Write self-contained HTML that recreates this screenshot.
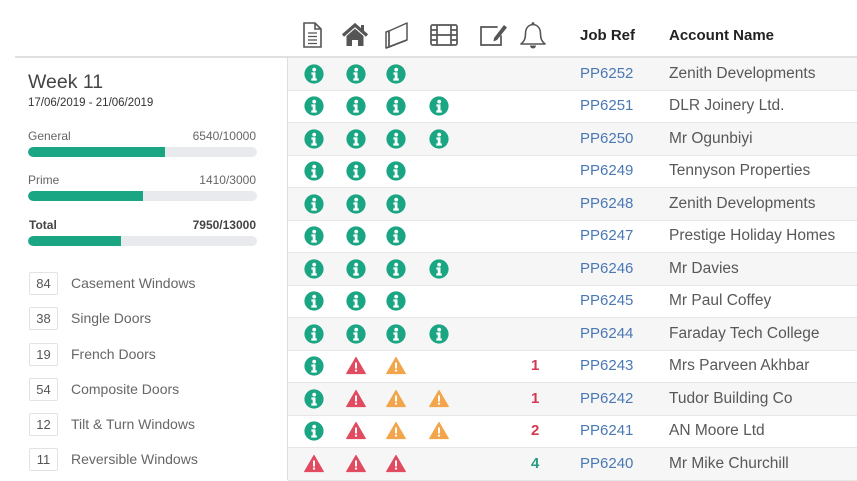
<!DOCTYPE html>
<html><head><meta charset="utf-8">
<style>
*{margin:0;padding:0;box-sizing:border-box}
body{width:857px;height:480px;overflow:hidden;background:#fff;font-family:"Liberation Sans",sans-serif;position:relative}
.a{position:absolute}
.row{position:absolute;left:288px;width:569px;height:33px;border-bottom:1px solid #e6e6e6}
.g{background:#f6f6f6}
.ref{position:absolute;left:292px;font-size:15px;color:#4a78b5;line-height:32px}
.acc{position:absolute;left:381px;font-size:15.5px;color:#585858;line-height:32px}
.ic{position:absolute;top:6px;width:20px;height:20px}
.cnt{position:absolute;left:243px;font-size:15px;font-weight:bold;line-height:32px}
.lbl{font-size:12px;color:#666}
.bar{position:absolute;left:28px;width:229px;height:10px;border-radius:5px;background:#e8eaed;overflow:hidden}
.bar div{height:10px;background:#1aa583;border-radius:5px 0 0 5px}
.box{position:absolute;left:29px;width:29px;height:23px;border:1px solid #e3e3e3;border-radius:2px;font-size:13px;color:#555;text-align:center;line-height:21px}
.it{position:absolute;left:71px;font-size:14px;color:#666;line-height:20px}
</style></head><body>
<svg width="0" height="0" style="position:absolute">
<defs>
<symbol id="inf" viewBox="0 0 20 20"><circle cx="10" cy="10" r="9.6" fill="#1aa583"/><circle cx="10.2" cy="5.6" r="1.9" fill="#fff"/><path d="M7.4 8.4h4.1v6h1.3v2.2H7.3v-2.2h1.4v-3.8H7.4z" fill="#fff"/></symbol>
<symbol id="wr" viewBox="0 0 20 20"><path d="M10 1.5 L19.3 17.5 L0.7 17.5 Z" fill="#e24a5f" stroke="#e24a5f" stroke-width="1.2" stroke-linejoin="round"/><rect x="9" y="6.5" width="2" height="6" fill="#fff"/><circle cx="10" cy="14.6" r="1.15" fill="#fff"/></symbol>
<symbol id="wo" viewBox="0 0 20 20"><path d="M10 1.5 L19.3 17.5 L0.7 17.5 Z" fill="#f2a54a" stroke="#f2a54a" stroke-width="1.2" stroke-linejoin="round"/><rect x="9" y="6.5" width="2" height="6" fill="#fff"/><circle cx="10" cy="14.6" r="1.15" fill="#fff"/></symbol>
</defs></svg>

<!-- header lines -->
<div class="a" style="left:15px;top:56px;width:842px;height:2px;background:#e0e0e0"></div>
<div class="a" style="left:287px;top:57px;width:1px;height:423px;background:#dedede"></div>

<!-- header icons -->
<svg class="a" style="left:300px;top:20px" width="250" height="30" viewBox="0 0 250 30">
<g fill="none" stroke="#555" stroke-width="1.6">
<path d="M4 3h11l6 6v18H4z"/><path d="M15 3v6h6"/>
<path d="M8 13h9M8 16.5h9M8 20h9M8 23.5h9" stroke-width="1.3"/>
</g>
<path d="M43 15.5 L55 5 L67 15.5" fill="none" stroke="#555" stroke-width="3.2" stroke-linejoin="miter"/>
<path d="M46.5 16 L55 8.6 L63.5 16 V26 H58 V20 H52 V26 H46.5Z" fill="#555"/>
<rect x="61" y="5" width="3" height="6" fill="#555"/>
<g fill="none" stroke="#555" stroke-width="1.5" stroke-linejoin="round">
<path d="M89 11 L107 3 L107 20 L89 27 Z"/><path d="M86 12 L89 11 L89 27 L86 28 Z"/><path d="M86 28 L104 21 L107 20"/>
</g>
<g fill="none" stroke="#555" stroke-width="1.7">
<rect x="131" y="5" width="26" height="20" rx="1.5"/>
<path d="M137 5v20M151 5v20M137 15h14M131 10h6M131 15h6M131 20h6M151 10h6M151 15h6M151 20h6"/>
<path d="M197 7h-16v18h20v-9" stroke-linecap="round"/>
</g>
<path d="M194 18 L204 5 L207 7.5 L197 20 L193.5 21.5Z" fill="#555"/>
<g fill="none" stroke="#555" stroke-width="1.6" stroke-linejoin="round">
<path d="M233 4.5 C227 5 225.5 10 225.5 14 C225.5 19 224 21.5 221 24 H245 C242 21.5 240.5 19 240.5 14 C240.5 10 239 5 233 4.5Z"/>
</g>
<circle cx="233" cy="3.5" r="1.4" fill="#555"/>
<path d="M230 25.5 a3 3 0 0 0 6 0Z" fill="#555"/>
</svg>
<div class="a" style="left:580px;top:26px;font-size:15px;font-weight:bold;color:#222;line-height:20px">Job Ref</div>
<div class="a" style="left:669px;top:26px;font-size:15px;font-weight:bold;color:#222;line-height:20px">Account Name</div>

<!-- left panel -->
<div class="a" style="left:28px;top:70px;font-size:19.5px;color:#444;line-height:24px">Week 11</div>
<div class="a" style="left:28px;top:96px;font-size:11.5px;color:#333;line-height:14px">17/06/2019 - 21/06/2019</div>

<div class="a lbl" style="left:28px;top:129px;line-height:14px">General</div>
<div class="a lbl" style="right:601px;top:129px;line-height:14px">6540/10000</div>
<div class="bar" style="top:147px"><div style="width:137px"></div></div>

<div class="a lbl" style="left:28px;top:173px;line-height:14px">Prime</div>
<div class="a lbl" style="right:601px;top:173px;line-height:14px">1410/3000</div>
<div class="bar" style="top:191px"><div style="width:115px"></div></div>

<div class="a lbl" style="left:29px;top:218px;line-height:14px;font-weight:bold;color:#444">Total</div>
<div class="a lbl" style="right:601px;top:218px;line-height:14px;font-weight:bold;color:#444">7950/13000</div>
<div class="bar" style="top:236px"><div style="width:93px"></div></div>

<div class="box" style="top:272px">84</div><div class="it" style="top:273px">Casement Windows</div>
<div class="box" style="top:307px">38</div><div class="it" style="top:308px">Single Doors</div>
<div class="box" style="top:343px">19</div><div class="it" style="top:344px">French Doors</div>
<div class="box" style="top:378px">54</div><div class="it" style="top:379px">Composite Doors</div>
<div class="box" style="top:413px">12</div><div class="it" style="top:414px">Tilt &amp; Turn Windows</div>
<div class="box" style="top:448px">11</div><div class="it" style="top:449px">Reversible Windows</div>

<!-- rows -->
<div class="row g" style="top:58px"><svg class="ic" style="left:16px"><use href="#inf"/></svg><svg class="ic" style="left:58px"><use href="#inf"/></svg><svg class="ic" style="left:98px"><use href="#inf"/></svg><div class="ref">PP6252</div><div class="acc">Zenith Developments</div></div>
<div class="row" style="top:90px"><svg class="ic" style="left:16px"><use href="#inf"/></svg><svg class="ic" style="left:58px"><use href="#inf"/></svg><svg class="ic" style="left:98px"><use href="#inf"/></svg><svg class="ic" style="left:141px"><use href="#inf"/></svg><div class="ref">PP6251</div><div class="acc">DLR Joinery Ltd.</div></div>
<div class="row g" style="top:122.5px"><svg class="ic" style="left:16px"><use href="#inf"/></svg><svg class="ic" style="left:58px"><use href="#inf"/></svg><svg class="ic" style="left:98px"><use href="#inf"/></svg><svg class="ic" style="left:141px"><use href="#inf"/></svg><div class="ref">PP6250</div><div class="acc">Mr Ogunbiyi</div></div>
<div class="row" style="top:155px"><svg class="ic" style="left:16px"><use href="#inf"/></svg><svg class="ic" style="left:58px"><use href="#inf"/></svg><svg class="ic" style="left:98px"><use href="#inf"/></svg><div class="ref">PP6249</div><div class="acc">Tennyson Properties</div></div>
<div class="row g" style="top:187.5px"><svg class="ic" style="left:16px"><use href="#inf"/></svg><svg class="ic" style="left:58px"><use href="#inf"/></svg><svg class="ic" style="left:98px"><use href="#inf"/></svg><div class="ref">PP6248</div><div class="acc">Zenith Developments</div></div>
<div class="row" style="top:220px"><svg class="ic" style="left:16px"><use href="#inf"/></svg><svg class="ic" style="left:58px"><use href="#inf"/></svg><svg class="ic" style="left:98px"><use href="#inf"/></svg><div class="ref">PP6247</div><div class="acc">Prestige Holiday Homes</div></div>
<div class="row g" style="top:252.5px"><svg class="ic" style="left:16px"><use href="#inf"/></svg><svg class="ic" style="left:58px"><use href="#inf"/></svg><svg class="ic" style="left:98px"><use href="#inf"/></svg><svg class="ic" style="left:141px"><use href="#inf"/></svg><div class="ref">PP6246</div><div class="acc">Mr Davies</div></div>
<div class="row" style="top:285px"><svg class="ic" style="left:16px"><use href="#inf"/></svg><svg class="ic" style="left:58px"><use href="#inf"/></svg><svg class="ic" style="left:98px"><use href="#inf"/></svg><div class="ref">PP6245</div><div class="acc">Mr Paul Coffey</div></div>
<div class="row g" style="top:317.5px"><svg class="ic" style="left:16px"><use href="#inf"/></svg><svg class="ic" style="left:58px"><use href="#inf"/></svg><svg class="ic" style="left:98px"><use href="#inf"/></svg><svg class="ic" style="left:141px"><use href="#inf"/></svg><div class="ref">PP6244</div><div class="acc">Faraday Tech College</div></div>
<div class="row" style="top:350px"><svg class="ic" style="left:16px"><use href="#inf"/></svg><svg class="ic" style="left:58px"><use href="#wr"/></svg><svg class="ic" style="left:98px"><use href="#wo"/></svg><div class="cnt" style="color:#d33a52">1</div><div class="ref">PP6243</div><div class="acc">Mrs Parveen Akhbar</div></div>
<div class="row g" style="top:382.5px"><svg class="ic" style="left:16px"><use href="#inf"/></svg><svg class="ic" style="left:58px"><use href="#wr"/></svg><svg class="ic" style="left:98px"><use href="#wo"/></svg><svg class="ic" style="left:141px"><use href="#wo"/></svg><div class="cnt" style="color:#d33a52">1</div><div class="ref">PP6242</div><div class="acc">Tudor Building Co</div></div>
<div class="row" style="top:415px"><svg class="ic" style="left:16px"><use href="#inf"/></svg><svg class="ic" style="left:58px"><use href="#wr"/></svg><svg class="ic" style="left:98px"><use href="#wo"/></svg><svg class="ic" style="left:141px"><use href="#wo"/></svg><div class="cnt" style="color:#d33a52">2</div><div class="ref">PP6241</div><div class="acc">AN Moore Ltd</div></div>
<div class="row g" style="top:447.5px"><svg class="ic" style="left:16px"><use href="#wr"/></svg><svg class="ic" style="left:58px"><use href="#wr"/></svg><svg class="ic" style="left:98px"><use href="#wr"/></svg><div class="cnt" style="color:#2a9a80">4</div><div class="ref">PP6240</div><div class="acc">Mr Mike Churchill</div></div>
</body></html>
